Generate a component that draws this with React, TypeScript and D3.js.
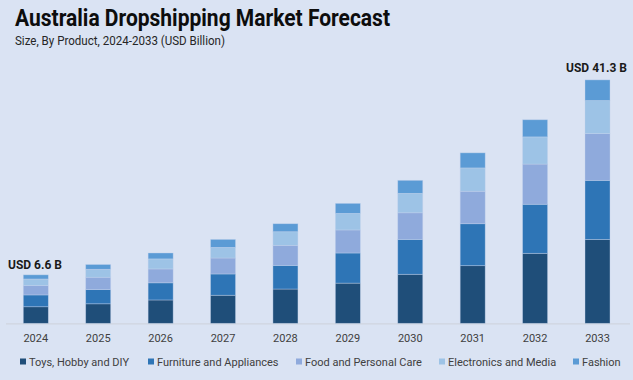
import React from "react";
import * as d3 from "d3";

const years = ["2024", "2025", "2026", "2027", "2028", "2029", "2030", "2031", "2032", "2033"];
const seriesNames = ["Toys, Hobby and DIY", "Furniture and Appliances", "Food and Personal Care", "Electronics and Media", "Fashion"];
const toys = [2.8, 3.3, 3.95, 4.75, 5.8, 6.8, 8.3, 9.75, 11.85, 14.2];
const furniture = [2.0, 2.4, 2.9, 3.6, 4.0, 5.1, 5.9, 7.1, 8.3, 10.0];
const food = [1.6, 2.1, 2.35, 2.7, 3.4, 3.9, 4.5, 5.5, 6.8, 7.9];
const electronics = [1.1, 1.35, 1.7, 1.8, 2.3, 2.8, 3.3, 3.95, 4.6, 5.6];
const fashion = [0.7, 0.8, 1.0, 1.35, 1.35, 1.7, 2.2, 2.55, 2.9, 3.5];
const colors = ["#1f4e79", "#2e75b6", "#8faadc", "#9dc3e6", "#5b9bd5"];
const firstLabel = "USD 6.6 B";
const lastLabel = "USD 41.3 B";

const W = 633;
const H = 380;

export default function App() {
  const table = years.map((y, i) => ({
    year: y,
    s0: toys[i],
    s1: furniture[i],
    s2: food[i],
    s3: electronics[i],
    s4: fashion[i],
  }));
  const keys = ["s0", "s1", "s2", "s3", "s4"];
  const stacked = d3.stack<any>().keys(keys)(table);

  const x = d3.scalePoint<string>().domain(years).range([35.8, 597.5]);
  const barW = 25;
  const y = d3.scaleLinear().domain([0, 41.3]).range([323.3, 79.3]);

  const legendX = [20, 148, 296, 439, 573];
  const font = "Roboto, 'Open Sans', sans-serif";
  const lastTop = y(d3.sum(keys.map((_, k) => (table[9] as any)[keys[k]])));

  return (
    <svg width={W} height={H} style={{ position: "absolute", left: 0, top: 0, display: "block" }}>
      <rect x={0} y={0} width={W} height={H} fill="#dae3f3" />
      <text x={15} y={25.5} fontFamily={font} fontWeight={700} fontSize={23} fill="#0d0d0d" textLength={375} lengthAdjust="spacingAndGlyphs">
        Australia Dropshipping Market Forecast
      </text>
      <text x={15} y={45} fontFamily={font} fontSize={13.5} fill="#262626" textLength={210} lengthAdjust="spacingAndGlyphs">
        Size, By Product, 2024-2033 (USD Billion)
      </text>
      <line x1={6} x2={630} y1={323.8} y2={323.8} stroke="#cfd5df" strokeWidth={1.2} />
      {stacked.map((layer, k) => (
        <g key={k} fill={colors[k]}>
          {layer.map((d, i) => (
            <rect
              key={i}
              x={(x(years[i]) as number) - barW / 2}
              y={y(d[1])}
              width={barW}
              height={y(d[0]) - y(d[1])}
              stroke="#c5d3ec"
              strokeOpacity={0.55}
              strokeWidth={0.7}
            />
          ))}
        </g>
      ))}
      {years.map((yr) => (
        <text key={yr} x={x(yr)} y={342} textAnchor="middle" fontFamily={font} fontSize={11} fill="#404040">
          {yr}
        </text>
      ))}
      <text x={8} y={268.5} fontFamily={font} fontWeight={700} fontSize={12} fill="#1a1a1a">
        {firstLabel}
      </text>
      <text x={(x("2033") as number) - 1} y={lastTop - 8} textAnchor="middle" fontFamily={font} fontWeight={700} fontSize={12} fill="#1a1a1a">
        {lastLabel}
      </text>
      {seriesNames.map((name, k) => (
        <g key={name}>
          <rect x={legendX[k]} y={358.5} width={6} height={6} fill={colors[k]} />
          <text x={legendX[k] + 9} y={365.5} fontFamily={font} fontSize={11} fill="#404040">
            {name}
          </text>
        </g>
      ))}
    </svg>
  );
}
